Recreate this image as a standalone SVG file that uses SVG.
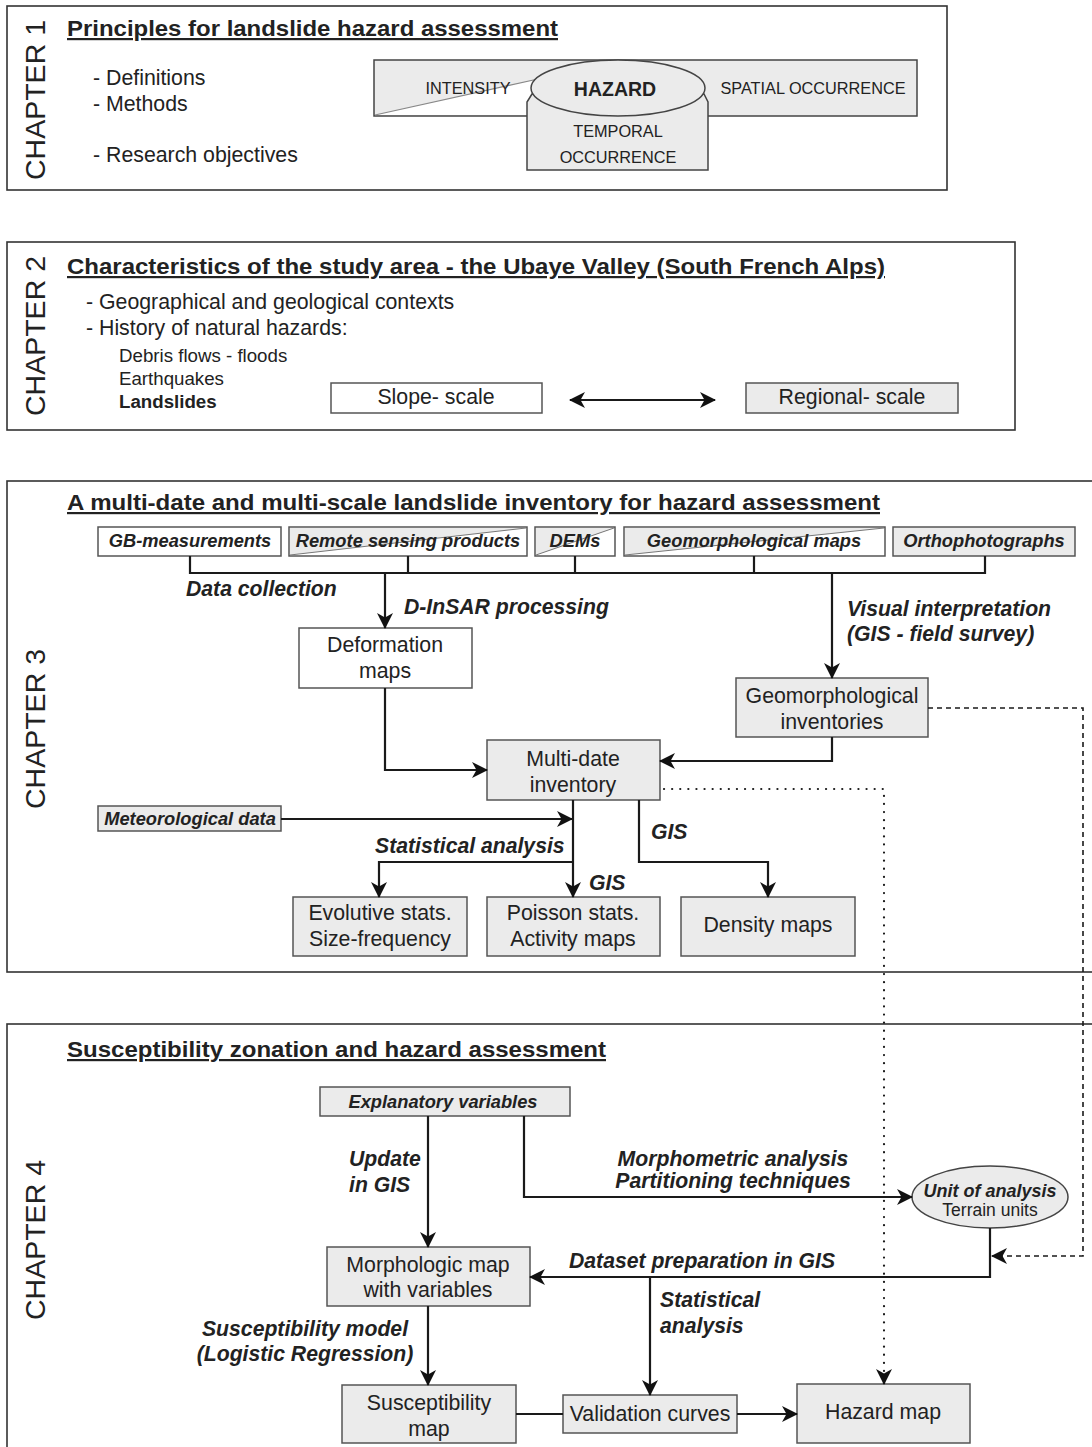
<svg xmlns="http://www.w3.org/2000/svg" width="1092" height="1447" viewBox="0 0 1092 1447">
  <style>
    text { font-family: "Liberation Sans", Arial, sans-serif; fill: #222; }
    .frame { fill: #fff; stroke: #333; stroke-width: 1.6; }
    .chap { font-size: 28.5px; text-anchor: middle; }
    .title { font-size: 22px; font-weight: bold; text-decoration: underline; }
    .body { font-size: 21.3px; }
    .small { font-size: 18.7px; }
    .caps { font-size: 16.3px; text-anchor: middle; }
    .lbl { font-size: 21.2px; font-weight: bold; font-style: italic; }
    .src { font-size: 18.3px; font-weight: bold; font-style: italic; text-anchor: middle; }
    .box { fill: #ebebeb; stroke: #555; stroke-width: 1.5; }
    .wbox { fill: #fff; stroke: #555; stroke-width: 1.5; }
    .bt { font-size: 21.3px; text-anchor: middle; }
    .mid { text-anchor: middle; }
    .conn { fill: none; stroke: #1a1a1a; stroke-width: 2.2; }
    .dotted { fill: none; stroke: #1a1a1a; stroke-width: 2.2; stroke-dasharray: 0.1 8; stroke-linecap: round; }
    .dashed { fill: none; stroke: #1a1a1a; stroke-width: 1.6; stroke-dasharray: 5 4; }
    .split { stroke: #777; stroke-width: 1; fill: none; }
  </style>
  <defs>
    <marker id="arrow" viewBox="0 0 16 16" refX="15" refY="8" markerWidth="16" markerHeight="16" markerUnits="userSpaceOnUse" orient="auto-start-reverse">
      <path d="M0,0 L16,8 L0,16 L4.5,8 Z" fill="#111"/>
    </marker>
  </defs>

  <!-- Chapter 1 -->
  <g id="chapter1">
    <rect class="frame" x="7" y="6" width="940" height="184"/>
    <text class="chap" transform="translate(44.5,100) rotate(-90)">CHAPTER 1</text>
    <text class="title" x="67" y="36" textLength="491" lengthAdjust="spacingAndGlyphs">Principles for landslide hazard assessment</text>
    <text class="body" x="93" y="85">- Definitions</text>
    <text class="body" x="93" y="111">- Methods</text>
    <text class="body" x="93" y="162">- Research objectives</text>
  </g>

  <!-- Hazard components sketch -->
  <g id="hazard-components">
    <rect x="374" y="60" width="543" height="56" fill="#ebebeb" stroke="#444" stroke-width="1.5"/>
    <polygon points="375,115 538,79 538,115" fill="#fff"/>
    <line x1="375" y1="115" x2="538" y2="79" stroke="#888" stroke-width="1.2"/>
    <path d="M532,94 L527,102 L527,170 L708,170 L708,102 L704,94 Z" fill="#ebebeb" stroke="#444" stroke-width="1.5"/>
    <ellipse cx="618" cy="88" rx="87" ry="28" fill="#ebebeb" stroke="#444" stroke-width="1.5"/>
    <text class="caps" x="468" y="94">INTENSITY</text>
    <text class="caps" x="813" y="94">SPATIAL OCCURRENCE</text>
    <text x="615" y="96" font-size="19.5" font-weight="bold" text-anchor="middle">HAZARD</text>
    <text class="caps" x="618" y="137">TEMPORAL</text>
    <text class="caps" x="618" y="163">OCCURRENCE</text>
  </g>

  <!-- Chapter 2 -->
  <g id="chapter2">
    <rect class="frame" x="7" y="242" width="1008" height="188"/>
    <text class="chap" transform="translate(44.5,336) rotate(-90)">CHAPTER 2</text>
    <text class="title" x="67" y="274" textLength="818" lengthAdjust="spacingAndGlyphs">Characteristics of the study area - the Ubaye Valley (South French Alps)</text>
    <text class="body" x="86" y="309">- Geographical and geological contexts</text>
    <text class="body" x="86" y="335">- History of natural hazards:</text>
    <text class="small" x="119" y="362">Debris flows - floods</text>
    <text class="small" x="119" y="385">Earthquakes</text>
    <text class="small" x="119" y="408" font-weight="bold">Landslides</text>
  </g>
  <g id="slope-scale">
    <rect class="wbox" x="331" y="383" width="211" height="30"/>
    <text class="bt" x="436" y="404">Slope- scale</text>
  </g>
  <g id="regional-scale">
    <rect class="box" x="746" y="383" width="212" height="30"/>
    <text class="bt" x="852" y="404">Regional- scale</text>
  </g>

  <!-- Chapter 3 -->
  <g id="chapter3">
    <rect class="frame" x="7" y="481" width="1100" height="491"/>
    <text class="chap" transform="translate(44.5,729) rotate(-90)">CHAPTER 3</text>
    <text class="title" x="67" y="510" textLength="813" lengthAdjust="spacingAndGlyphs">A multi-date and multi-scale landslide inventory for hazard assessment</text>
  </g>

  <g id="gb-measurements">
    <rect class="wbox" x="98" y="527" width="183" height="29"/>
    <text class="src" x="190" y="547">GB-measurements</text>
  </g>
  <g id="remote-sensing">
    <rect class="wbox" x="289" y="527" width="238" height="29"/>
    <polygon points="290,528 526,528 290,555" fill="#ebebeb"/>
    <line class="split" x1="290" y1="555" x2="526" y2="528"/>
    <text class="src" x="408" y="547">Remote sensing products</text>
  </g>
  <g id="dems">
    <rect class="wbox" x="535" y="527" width="80" height="29"/>
    <polygon points="536,528 614,528 536,555" fill="#ebebeb"/>
    <line class="split" x1="536" y1="555" x2="614" y2="528"/>
    <text class="src" x="575" y="547">DEMs</text>
  </g>
  <g id="geomorph-maps">
    <rect class="wbox" x="624" y="527" width="261" height="29"/>
    <polygon points="625,528 884,528 625,555" fill="#ebebeb"/>
    <line class="split" x1="625" y1="555" x2="884" y2="528"/>
    <text class="src" x="754" y="547">Geomorphological maps</text>
  </g>
  <g id="orthophotographs">
    <rect class="box" x="893" y="527" width="182" height="29"/>
    <text class="src" x="984" y="547">Orthophotographs</text>
  </g>

  <g id="deformation-maps">
    <rect class="wbox" x="299" y="628" width="173" height="60"/>
    <text class="bt" x="385" y="652">Deformation</text>
    <text class="bt" x="385" y="678">maps</text>
  </g>
  <g id="geomorph-inventories">
    <rect class="box" x="736" y="678" width="192" height="59"/>
    <text class="bt" x="832" y="703">Geomorphological</text>
    <text class="bt" x="832" y="729">inventories</text>
  </g>
  <g id="multi-date-inventory">
    <rect class="box" x="487" y="740" width="173" height="60"/>
    <text class="bt" x="573" y="766">Multi-date</text>
    <text class="bt" x="573" y="792">inventory</text>
  </g>
  <g id="meteorological-data">
    <rect class="box" x="98" y="806" width="183" height="25"/>
    <text class="src" x="190" y="825">Meteorological data</text>
  </g>
  <g id="evolutive-stats">
    <rect class="box" x="293" y="897" width="174" height="59"/>
    <text class="bt" x="380" y="920">Evolutive stats.</text>
    <text class="bt" x="380" y="946">Size-frequency</text>
  </g>
  <g id="poisson-stats">
    <rect class="box" x="487" y="897" width="173" height="59"/>
    <text class="bt" x="573" y="920">Poisson stats.</text>
    <text class="bt" x="573" y="946">Activity maps</text>
  </g>
  <g id="density-maps">
    <rect class="box" x="681" y="897" width="174" height="59"/>
    <text class="bt" x="768" y="932">Density maps</text>
  </g>

  <!-- Chapter 4 -->
  <g id="chapter4">
    <rect class="frame" x="7" y="1024" width="1100" height="440"/>
    <text class="chap" transform="translate(44.5,1240) rotate(-90)">CHAPTER 4</text>
    <text class="title" x="67" y="1057" textLength="539" lengthAdjust="spacingAndGlyphs">Susceptibility zonation and hazard assessment</text>
  </g>
  <g id="explanatory-variables">
    <rect class="box" x="320" y="1087" width="250" height="29"/>
    <text class="src" x="443" y="1108">Explanatory variables</text>
  </g>
  <g id="unit-of-analysis">
    <ellipse cx="990" cy="1197" rx="78" ry="31" fill="#ebebeb" stroke="#444" stroke-width="1.5"/>
    <text x="990" y="1197" font-size="18" font-weight="bold" font-style="italic" text-anchor="middle">Unit of analysis</text>
    <text x="990" y="1216" font-size="17.5" text-anchor="middle">Terrain units</text>
  </g>
  <g id="morphologic-map">
    <rect class="box" x="327" y="1247" width="203" height="59"/>
    <text class="bt" x="428" y="1272">Morphologic map</text>
    <text class="bt" x="428" y="1297">with variables</text>
  </g>
  <g id="susceptibility-map">
    <rect class="box" x="342" y="1385" width="174" height="58"/>
    <text class="bt" x="429" y="1410">Susceptibility</text>
    <text class="bt" x="429" y="1436">map</text>
  </g>
  <g id="validation-curves">
    <rect class="box" x="563" y="1395" width="174" height="38"/>
    <text class="bt" x="650" y="1421">Validation curves</text>
  </g>
  <g id="hazard-map">
    <rect class="box" x="797" y="1384" width="173" height="59"/>
    <text class="bt" x="883" y="1419">Hazard map</text>
  </g>

  <!-- Connectors -->
  <g id="connectors">
    <path class="conn" d="M190,556 V573 H985 V556 M408,556 V573 M575,556 V573 M754,556 V573"/>
    <path class="conn" d="M385,573 V628" marker-end="url(#arrow)"/>
    <path class="conn" d="M832,573 V678" marker-end="url(#arrow)"/>
    <path class="conn" d="M385,688 V770 H487" marker-end="url(#arrow)"/>
    <path class="conn" d="M832,737 V761 H660" marker-end="url(#arrow)"/>
    <path class="conn" d="M281,819 H572" marker-end="url(#arrow)"/>
    <path class="conn" d="M573,800 V897" marker-end="url(#arrow)"/>
    <path class="conn" d="M573,862 H379 V897" marker-end="url(#arrow)"/>
    <path class="conn" d="M639,800 V862 H768 V897" marker-end="url(#arrow)"/>
    <path class="dotted" d="M664,789 H884 V1374"/>
    <path class="conn" d="M884,1378 V1384" marker-end="url(#arrow)"/>
    <path class="dashed" d="M928,708 H1083 V1256 H992" marker-end="url(#arrow)"/>
    <path class="conn" d="M570,400 H715" marker-start="url(#arrow)" marker-end="url(#arrow)"/>
    <path class="conn" d="M428,1116 V1247" marker-end="url(#arrow)"/>
    <path class="conn" d="M524,1116 V1197 H912" marker-end="url(#arrow)"/>
    <path class="conn" d="M990,1228 V1277 H530" marker-end="url(#arrow)"/>
    <path class="conn" d="M650,1277 V1395" marker-end="url(#arrow)"/>
    <path class="conn" d="M428,1306 V1385" marker-end="url(#arrow)"/>
    <path class="conn" d="M516,1414 H563"/>
    <path class="conn" d="M737,1414 H797" marker-end="url(#arrow)"/>

    <text class="lbl" x="186" y="596">Data collection</text>
    <text class="lbl" x="404" y="614">D-InSAR processing</text>
    <text class="lbl" x="847" y="616">Visual interpretation</text>
    <text class="lbl" x="847" y="641">(GIS - field survey)</text>
    <text class="lbl" x="375" y="853">Statistical analysis</text>
    <text class="lbl" x="589" y="890">GIS</text>
    <text class="lbl" x="651" y="839">GIS</text>
    <text class="lbl" x="349" y="1166">Update</text>
    <text class="lbl" x="349" y="1192">in GIS</text>
    <text class="lbl mid" x="733" y="1166">Morphometric analysis</text>
    <text class="lbl mid" x="733" y="1188">Partitioning techniques</text>
    <text class="lbl" x="569" y="1268">Dataset preparation in GIS</text>
    <text class="lbl" x="660" y="1307">Statistical</text>
    <text class="lbl" x="660" y="1333">analysis</text>
    <text class="lbl mid" x="305" y="1336">Susceptibility model</text>
    <text class="lbl mid" x="305" y="1361">(Logistic Regression)</text>
  </g>
</svg>
